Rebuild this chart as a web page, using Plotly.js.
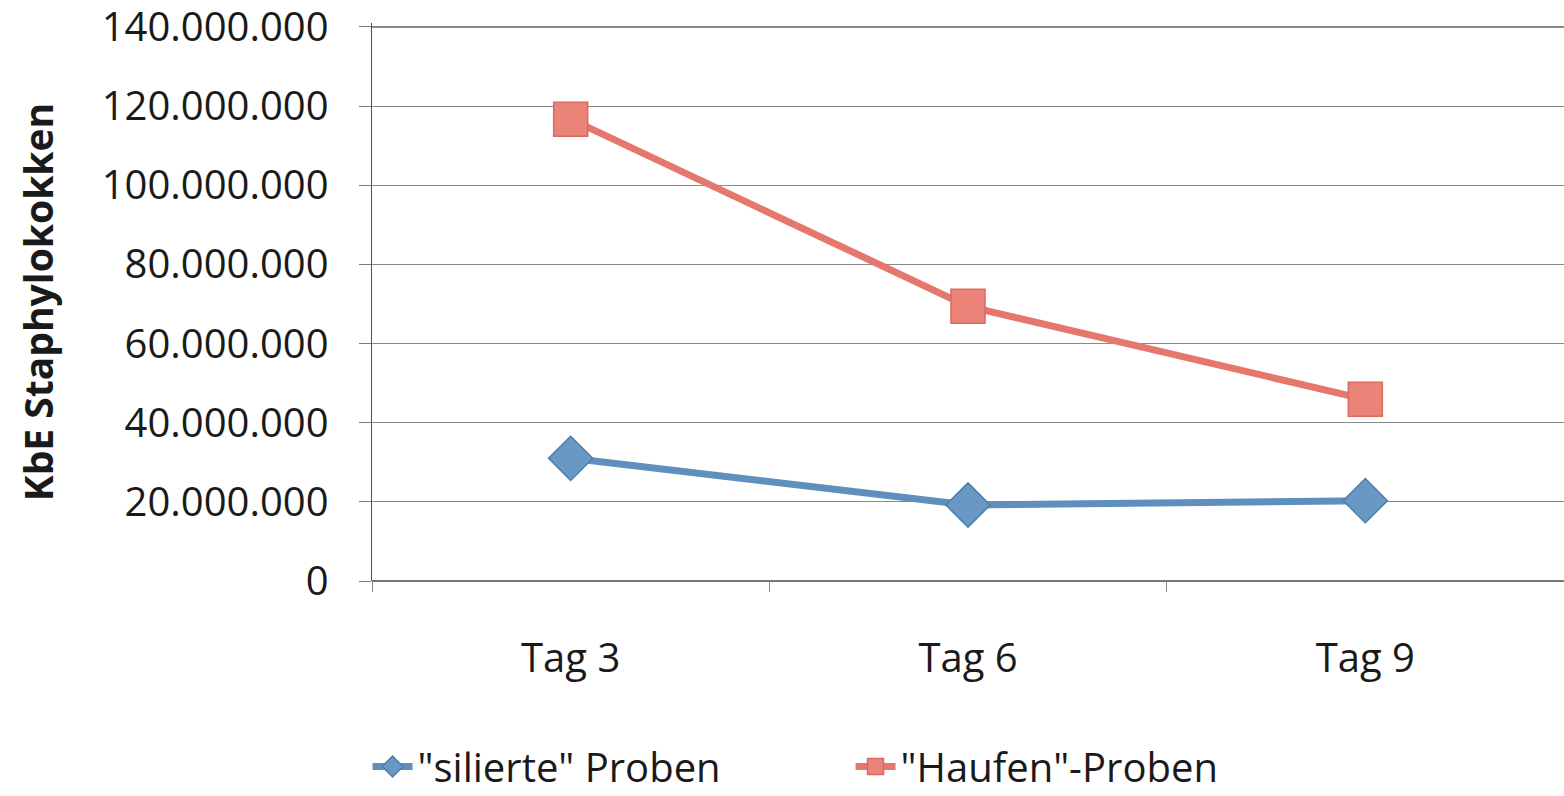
<!DOCTYPE html>
<html>
<head>
<meta charset="utf-8">
<script src="https://cdn.plot.ly/plotly-3.0.1.min.js"></script>
<style>
  html, body { margin: 0; padding: 0; background: #ffffff; }
  #chart { width: 1564px; height: 796px; }
</style>
</head>
<body>
<div id="chart"></div>
<script>
// Staphylococcus counts (CFU) per sampling day
const days = ["Tag 3", "Tag 6", "Tag 9"];
const silierteProben = [31000000, 19200000, 20300000];
const haufenProben = [116700000, 69400000, 45900000];
const yTicks = [0, 20000000, 40000000, 60000000, 80000000, 100000000, 120000000, 140000000];

const font = "Open Sans, Lato, sans-serif";

const traces = [
  {
    name: '"silierte" Proben',
    x: days,
    y: silierteProben,
    type: "scatter",
    mode: "lines+markers",
    line: { color: "#5e8fbd", width: 7 },
    marker: { symbol: "diamond", size: 34, color: "#6a98c4", line: { color: "#4d7eab", width: 1.5 } }
  },
  {
    name: '"Haufen"-Proben',
    x: days,
    y: haufenProben,
    type: "scatter",
    mode: "lines+markers",
    line: { color: "#e5776c", width: 7 },
    marker: { symbol: "square", size: 34, color: "#ec8379", line: { color: "#d96a60", width: 1.5 } }
  }
];

const layout = {
  width: 1564,
  height: 796,
  paper_bgcolor: "#ffffff",
  plot_bgcolor: "#ffffff",
  separators: ",.",
  margin: { l: 372, r: 0, t: 23, b: 215, pad: 0, autoexpand: false },
  font: { family: font, color: "#1a1a1a", size: 40 },
  showlegend: true,
  legend: {
    orientation: "h",
    xref: "container",
    x: 0.235,
    xanchor: "left",
    yref: "container",
    y: 0.037,
    yanchor: "middle",
    font: { family: font, size: 40, color: "#1a1a1a" },
    itemwidth: 40,
    entrywidth: 428,
    entrywidthmode: "pixels"
  },
  xaxis: {
    type: "category",
    range: [-0.5, 2.5],
    tickson: "boundaries",
    ticks: "outside",
    ticklen: 10,
    tickcolor: "#888888",
    showgrid: false,
    showline: false,
    zeroline: false,
    tickfont: { family: font, size: 40, color: "#1a1a1a" },
    ticklabelstandoff: 50
  },
  yaxis: {
    range: [0, 141000000],
    tickvals: yTicks,
    tickformat: ",d",
    ticks: "outside",
    ticklen: 12,
    tickcolor: "#777777",
    showgrid: true,
    gridcolor: "#8a8a8a",
    gridwidth: 1.2,
    showline: true,
    linecolor: "#4a5060",
    linewidth: 1.5,
    zeroline: true,
    zerolinecolor: "#777777",
    zerolinewidth: 1.5,
    tickfont: { family: font, size: 40, color: "#1a1a1a" },
    ticklabelstandoff: 22,
    ticklabeloverflow: "allow",
    title: {
      text: "KbE Staphylokokken",
      font: { family: font, size: 39, color: "#1a1a1a", weight: "bold" },
      standoff: 36
    }
  }
};

Plotly.newPlot("chart", traces, layout, { displayModeBar: false, staticPlot: true });
</script>
</body>
</html>
